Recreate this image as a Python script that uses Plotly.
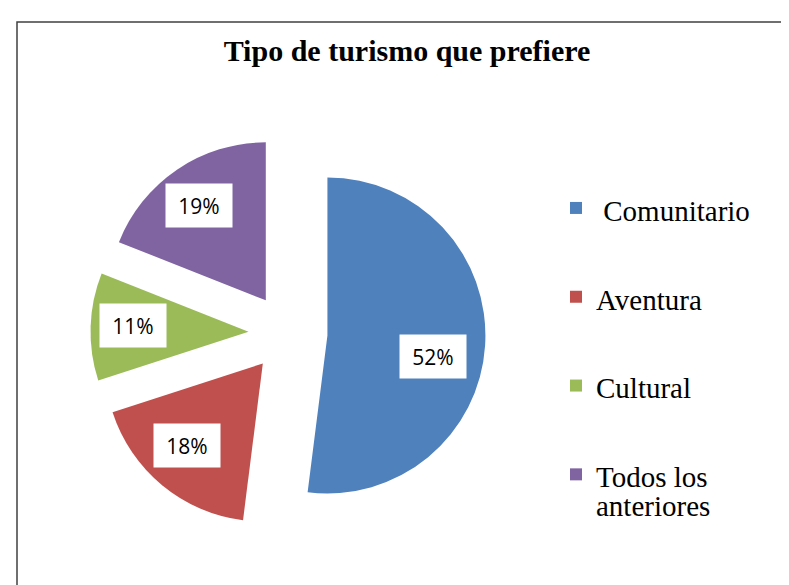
import math
import plotly.graph_objects as go

# data
categories = ['Comunitario', 'Aventura', 'Cultural', 'Todos los anteriores']
values = [52, 18, 11, 19]
colors = ['#4F81BD', '#C0504D', '#9BBB59', '#8064A2']

W, H = 789, 585
PULL = 0.25
# pie domain in pixels (square)
cx_px, cy_px, half = 280, 325, 197.5
dom_x = [(cx_px - half) / W, (cx_px + half) / W]
dom_y = [(H - cy_px - half) / H, (H - cy_px + half) / H]

SPAN = "<span style='font-size:29px'>{}</span>"


def leg_label(name):
    # legend entries get two lines so items are spaced like the original
    words = name.split(' ')
    if len(words) > 2:
        first = ' '.join(words[:2])
        rest = ' '.join(words[2:])
        return SPAN.format(first) + '<br><sup>' + SPAN.format(rest) + '</sup>'
    if name == 'Comunitario':
        name = '\u00a0' + name
    return SPAN.format(name) + '<br>\u00a0'


fig = go.Figure(go.Pie(
    labels=[leg_label(c) for c in categories],
    values=values,
    sort=False,
    direction='clockwise',
    rotation=0,
    pull=[PULL] * len(values),
    marker=dict(colors=colors, line=dict(width=0)),
    textinfo='none',
    hovertext=categories,
    hoverinfo='text+percent',
    domain=dict(x=dom_x, y=dom_y),
))

# percentage labels in white boxes, at slice mid-angles
label_yshift = [-17, 0, 0, 0]
lx, ly = cx_px - 5, cy_px - 3
r = half / (1 + PULL)
total = sum(values)
cum = 0
annotations = []
for v, ys in zip(values, label_yshift):
    mid = (cum + v / 2) / total * 2 * math.pi
    cum += v
    d = (PULL + 0.70) * r
    px = lx + d * math.sin(mid)
    py = ly - d * math.cos(mid)
    annotations.append(dict(
        x=px / W, y=1 - py / H, xref='paper', yref='paper',
        xanchor='center', yanchor='middle',
        text=f'{round(v / total * 100)}%', showarrow=False, yshift=ys,
        font=dict(family='Open Sans, Liberation Sans, sans-serif', size=21, color='#000000'),
        bgcolor='white', borderpad=5, width=56, height=33,
    ))

fig.update_layout(
    width=W, height=H,
    margin=dict(l=0, r=0, t=0, b=0),
    paper_bgcolor='white',
    title=dict(text='<b>Tipo de turismo que prefiere</b>', x=399 / W, xanchor='center',
               y=1 - 42 / H, yanchor='middle',
               font=dict(family='Liberation Serif, Times New Roman, serif', size=30, color='#000000')),
    showlegend=True,
    legend=dict(x=548 / W, xanchor='left', y=1 - 172 / H, yanchor='top',
                valign='top', traceorder='normal',
                font=dict(family='Liberation Serif, Times New Roman, serif', size=33, color='#000000')),
    annotations=annotations,
    shapes=[dict(type='rect', xref='paper', yref='paper',
                 x0=9 / W, x1=1.02, y0=-0.02, y1=1 - 14 / H,
                 line=dict(color='#404040', width=1.5))],
)

fig.write_html('out.html')
